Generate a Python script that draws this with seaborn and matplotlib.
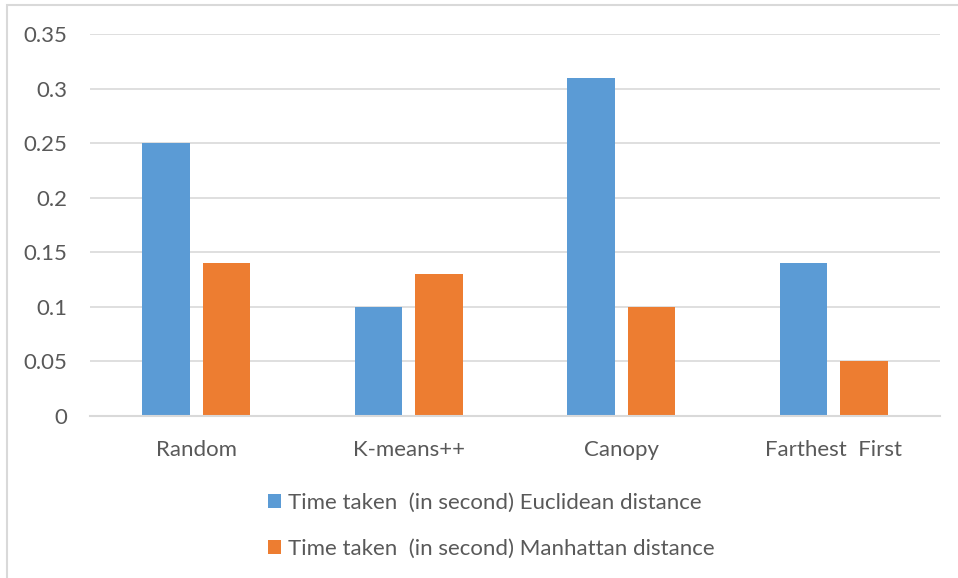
import matplotlib
matplotlib.use("Agg")
import matplotlib.pyplot as plt
from matplotlib.patches import Patch, Rectangle
import seaborn as sns
import pandas as pd

methods = ["Random", "K-means++", "Canopy", "Farthest  First"]
euclidean = [0.25, 0.10, 0.31, 0.14]
manhattan = [0.14, 0.13, 0.10, 0.05]
series_names = [
    "Time taken  (in second) Euclidean distance",
    "Time taken  (in second) Manhattan distance",
]
colors = ["#5B9BD5", "#ED7D31"]
y_ticks = [0, 0.05, 0.1, 0.15, 0.2, 0.25, 0.3, 0.35]
y_tick_labels = ["0", "0.05", "0.1", "0.15", "0.2", "0.25", "0.3", "0.35"]

df = pd.DataFrame({
    "method": methods * 2,
    "time": euclidean + manhattan,
    "metric": [series_names[0]] * len(methods) + [series_names[1]] * len(methods),
})

sns.set_theme(style="white")
plt.rcParams["font.family"] = ["Lato", "DejaVu Sans"]

text_color = "#595959"
grid_color = "#D9D9D9"
fs = 16

fig = plt.figure(figsize=(9.58, 5.78), dpi=100)
ax = fig.add_axes([90 / 958, 1 - 416 / 578, 850 / 958, 382 / 578])

sns.barplot(
    data=df, x="method", y="time", hue="metric", order=methods,
    hue_order=series_names, palette=colors, saturation=1,
    width=0.569, gap=0.215, legend=False, linewidth=0, ax=ax,
)

ax.set_ylim(0, 0.35)
ax.set_xlim(-0.5, len(methods) - 0.5)
ax.set_yticks(y_ticks)
ax.set_yticklabels(y_tick_labels)
ax.yaxis.grid(True, color=grid_color, linewidth=1.2)
ax.set_axisbelow(True)
for side in ["left", "right", "top"]:
    ax.spines[side].set_visible(False)
ax.spines["bottom"].set_color(grid_color)
ax.spines["bottom"].set_linewidth(1.5)
ax.set_xlabel("")
ax.set_ylabel("")
ax.tick_params(axis="y", length=0, pad=16.5, labelsize=fs, labelcolor=text_color)
ax.tick_params(axis="x", length=0, pad=17, labelsize=fs, labelcolor=text_color)

handles = [Patch(facecolor=c, edgecolor="none") for c in colors]
fig.legend(
    handles, series_names, loc="upper left",
    bbox_to_anchor=(268 / 958, 1 - 493 / 578), bbox_transform=fig.transFigure,
    frameon=False, fontsize=fs, labelcolor=text_color,
    handlelength=0.6, handleheight=0.6, handletextpad=0.3,
    labelspacing=1.15, borderpad=0, borderaxespad=0,
)

# chart area outline
fig.patches.append(Rectangle(
    (7 / 958, -0.1), 1.2, 1.1 - 5 / 578, transform=fig.transFigure,
    fill=False, edgecolor=grid_color, linewidth=1.5, zorder=-1,
))

fig.savefig("out.png", dpi=100, facecolor="white")
